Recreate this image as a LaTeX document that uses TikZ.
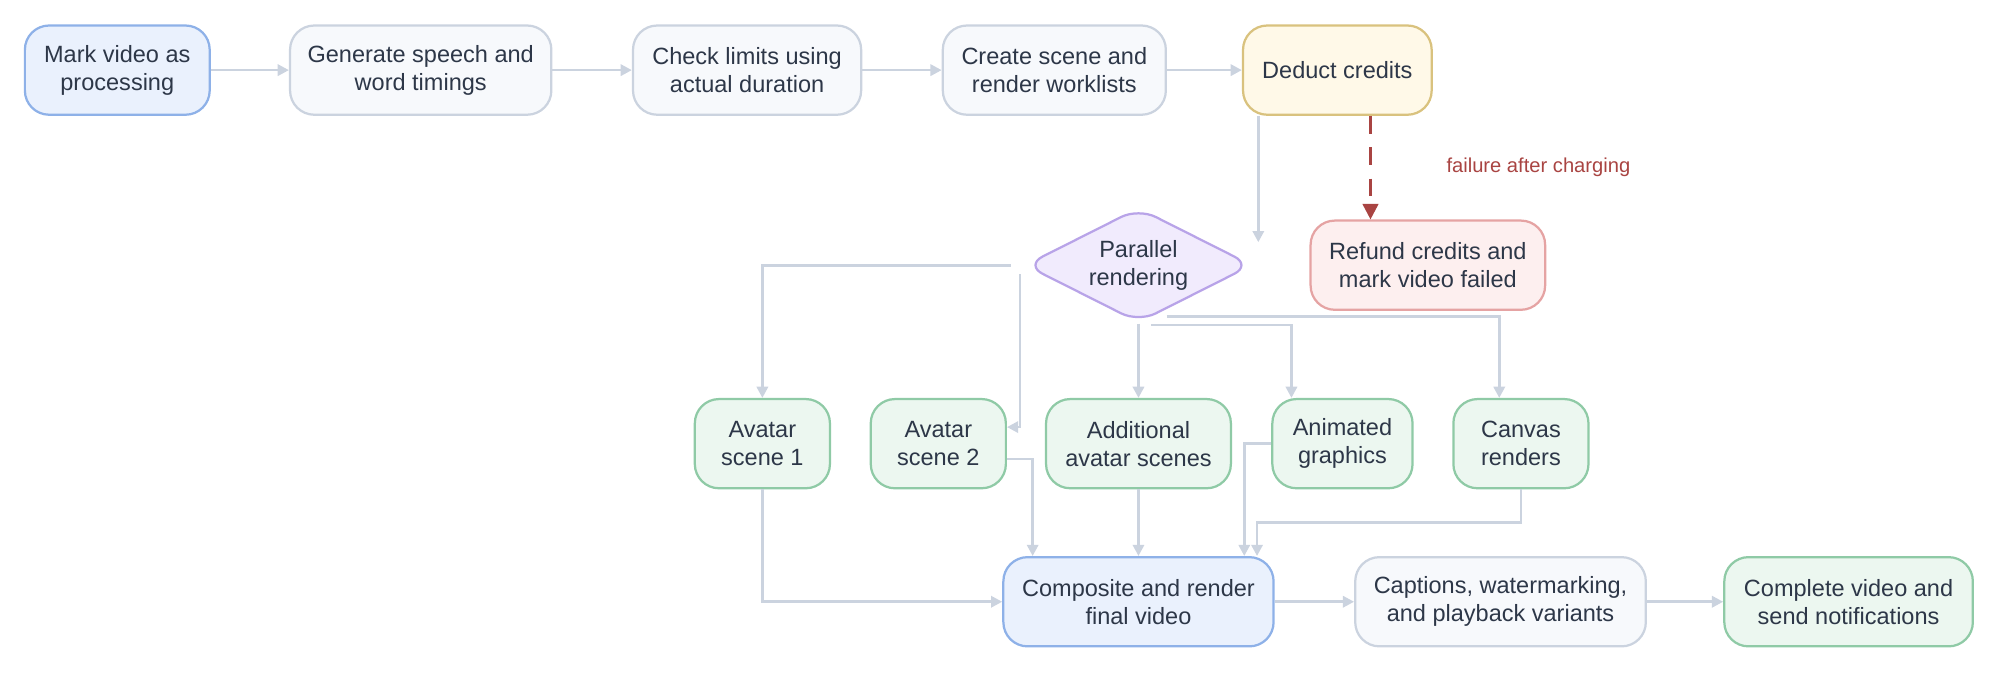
\documentclass[tikz,border=0pt]{standalone}
\usepackage{fontspec}
\setmainfont{Liberation Sans}
\usetikzlibrary{arrows.meta,shapes.geometric}
\definecolor{txt}{HTML}{2D3748}
\definecolor{edgec}{HTML}{CBD3DF}
\definecolor{failc}{HTML}{A94442}
\definecolor{blueF}{HTML}{EAF1FD}
\definecolor{blueD}{HTML}{8EB1E8}
\definecolor{grayF}{HTML}{F7F9FC}
\definecolor{yelF}{HTML}{FFF9E8}
\definecolor{yelD}{HTML}{D9C27E}
\definecolor{redF}{HTML}{FDEFEF}
\definecolor{redD}{HTML}{E5A3A3}
\definecolor{vioF}{HTML}{F1EBFD}
\definecolor{vioD}{HTML}{B8A3E8}
\definecolor{grnF}{HTML}{ECF7F0}
\definecolor{grnD}{HTML}{8FCAA6}
\tikzset{
    box/.style = {
        draw, rounded corners=0.38cm, line width=1pt, align=center,
        text=txt, minimum height=1.4cm, inner sep=2pt,
        font=\fontsize{10.5}{12.5}\selectfont,
        },
    plain/.style = {box, fill=grayF, draw=edgec},
    active/.style = {box, fill=blueF, draw=blueD},
    charge/.style = {box, fill=yelF, draw=yelD},
    refund/.style = {box, fill=redF, draw=redD},
    scene/.style = {box, fill=grnF, draw=grnD},
    fork/.style = {
        diamond, aspect=2, draw=vioD, fill=vioF, line width=1pt, rounded corners=0.3cm,
        minimum width=3.56cm, minimum height=1.8cm, inner sep=0pt, align=center,
        text=txt, font=\fontsize{10.5}{12.5}\selectfont,
        },
    flow/.style = {draw=edgec, line width=1.2pt, -{Triangle[length=5pt,width=5pt]}},
    fail/.style = {draw=failc, line width=1.2pt, dash pattern=on 8pt off 6pt,
        -{Triangle[length=7pt,width=7pt]}},
}
\begin{document}
\begin{tikzpicture}[x=0.02cm, y=-0.02cm]
    \useasboundingbox (0,0) rectangle (1568,528);
    \node[active, minimum width=2.9cm] (mark) at (92,55) {Mark video as\\processing};
    \node[plain, minimum width=4.1cm] (speech) at (330,55) {Generate speech and\\word timings};
    \node[plain, minimum width=3.58cm] (limits) at (586,55) {Check limits using\\actual duration};
    \node[plain, minimum width=3.5cm] (lists) at (827,55) {Create scene and\\render worklists};
    \node[charge, minimum width=2.96cm] (deduct) at (1049,55) {Deduct credits};
    \node[refund, minimum width=3.68cm] (refund) at (1120,208) {Refund credits and\\mark video failed};
    \node[fork] (par) at (893,208) {Parallel\\rendering};

    \node[scene, minimum width=2.12cm] (s1) at (598,348) {Avatar\\scene 1};
    \node[scene, minimum width=2.12cm] (s2) at (736,348) {Avatar\\scene 2};
    \node[scene, minimum width=2.9cm] (s3) at (893,348) {Additional\\avatar scenes};
    \node[scene, minimum width=2.2cm] (s4) at (1053,348) {Animated\\graphics};
    \node[scene, minimum width=2.12cm] (s5) at (1193,348) {Canvas\\renders};

    \node[active, minimum width=4.24cm] (comp) at (893,472) {Composite and render\\final video};
    \node[plain, minimum width=4.56cm] (capt) at (1177,472) {Captions, watermarking,\\and playback variants};
    \node[scene, minimum width=3.9cm] (done) at (1450,472) {Complete video and\\send notifications};

    % main line
    \path[flow] (mark) -- (speech);
    \path[flow] (speech) -- (limits);
    \path[flow] (limits) -- (lists);
    \path[flow] (lists) -- (deduct);
    \path[flow] (deduct.south -| 987,0) -- (987,190);
    \path[fail] (deduct.south -| 1075,0) -- (refund.north -| 1075,0)
        node[midway, right=30pt, text=failc, font=\fontsize{9}{11}\selectfont] {failure after charging};

    % fan out
    \path[flow] (793,208) -| (s1.north);
    \path[flow] (800,215) |- (s2.east |- 0,335);
    \path[flow] (par.south) -- (s3.north);
    \path[flow] (903,255) -| (s4.north -| 1013,0);
    \path[flow] (915,248) -| (s5.north -| 1176,0);

    % fan in
    \path[flow] (s1.south) |- (comp.west);
    \path[flow] (s2.east |- 0,360) -| (comp.north -| 810,0);
    \path[flow] (s3.south) -- (comp.north);
    \path[flow] (s4.west) -| (comp.north -| 976,0);
    \path[flow] (s5.south) |- (986,410) -- (comp.north -| 986,0);

    \path[flow] (comp) -- (capt);
    \path[flow] (capt) -- (done);
\end{tikzpicture}
\end{document}
